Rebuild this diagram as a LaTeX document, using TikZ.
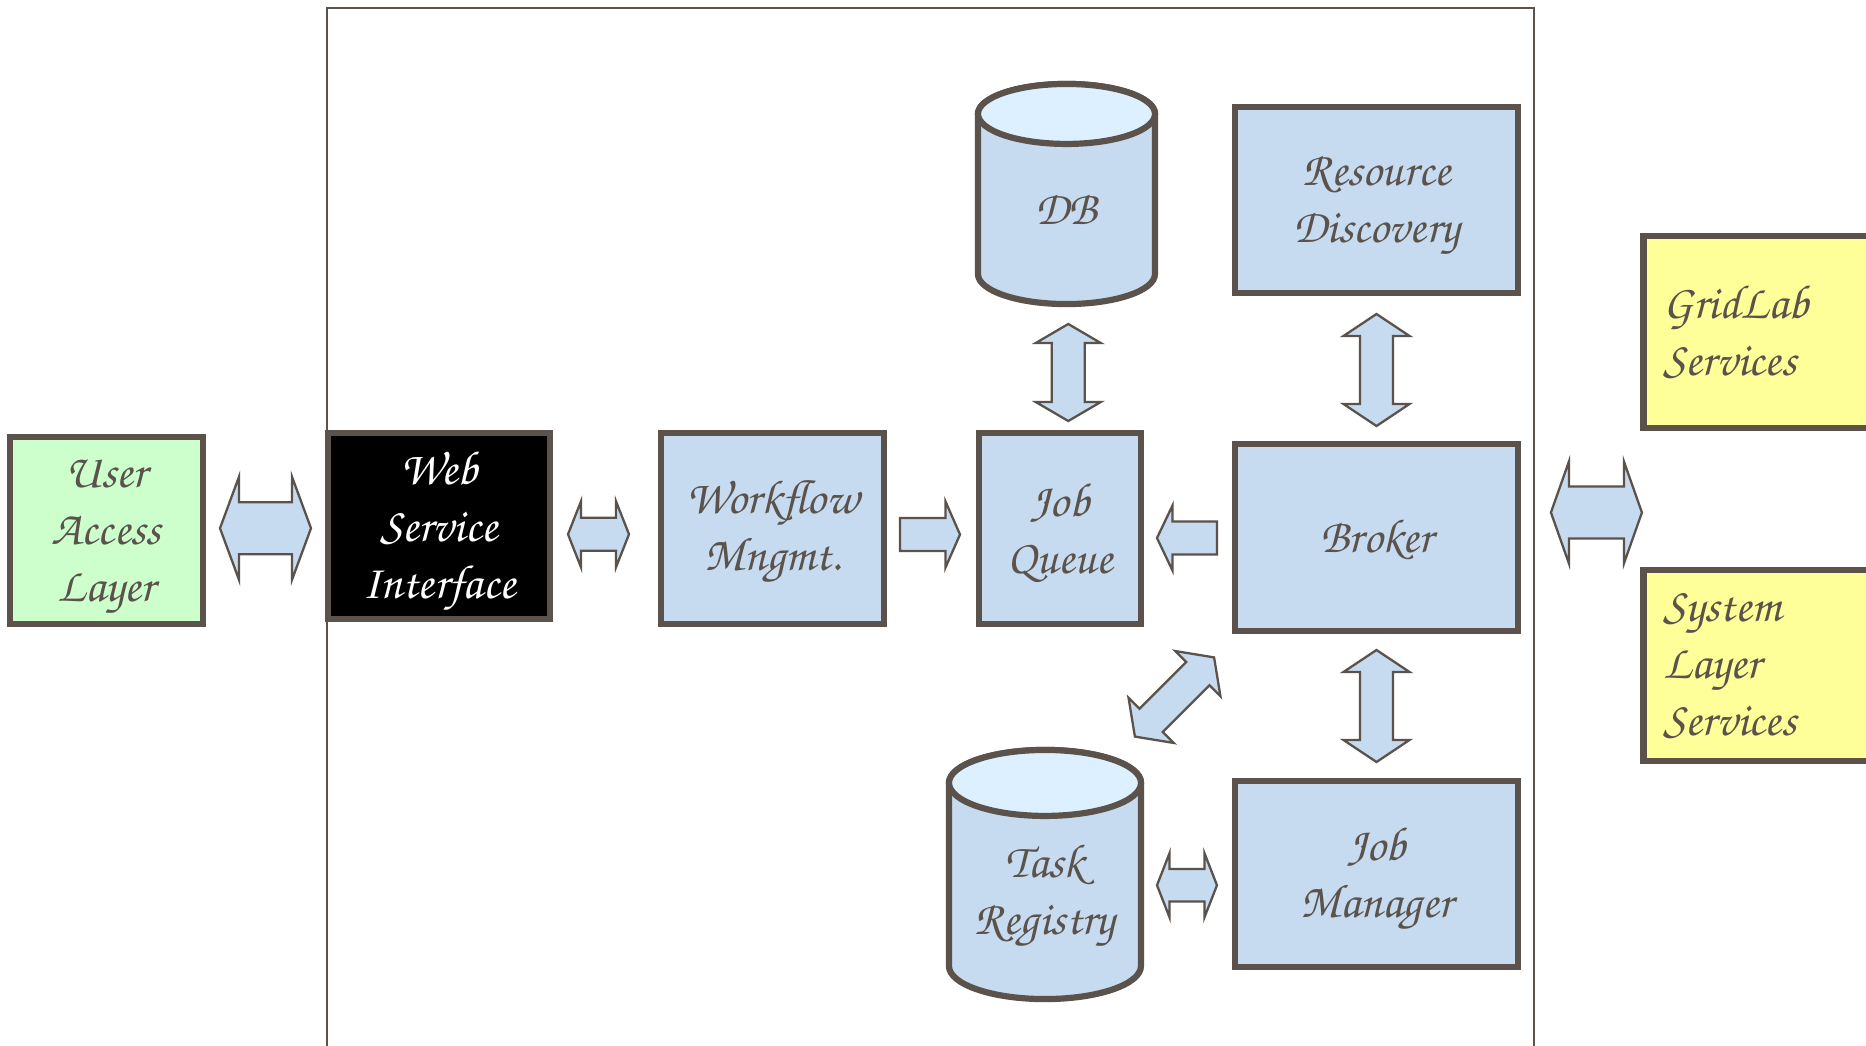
\documentclass[tikz,border=0pt]{standalone}
\usepackage[T1,TU]{fontenc}
\usetikzlibrary{calc}

\definecolor{ink}{RGB}{90,82,75}
\definecolor{boxblue}{RGB}{198,219,239}
\definecolor{captop}{RGB}{220,240,255}
\definecolor{boxgreen}{RGB}{204,255,204}
\definecolor{boxyellow}{RGB}{255,255,153}

% calligraphic face used for every label
\newcommand\handface{\fontencoding{T1}\fontfamily{pzc}\fontseries{mb}\fontshape{it}\fontsize{13.6}{16.2}\selectfont}
% invisible strut that lowers a centred label a little
\newcommand\topgap[1]{\rule{0pt}{#1}}

\tikzset{
  plainbox/.style={draw=ink, line width=0.062cm, outer sep=0pt,
    inner sep=0pt, text=ink, font=\handface},
  module/.style={plainbox, fill=boxblue, align=center},
  servicebox/.style={plainbox, fill=boxyellow, align=left, inner xsep=0.2cm},
  drumbody/.style={outer sep=0pt, inner sep=0pt},
  drumlabel/.style={text=ink, font=\handface, align=center},
  blockarrow/.style={draw=ink, line width=0.65pt, fill=boxblue, line join=miter},
  wall/.style={draw=ink, line width=0.02cm, outer sep=0pt}
}

% double-headed block arrow: centre, angle, half length, shaft half width, head half width, head length
\newcommand\twoway[6]{%
  \begin{scope}[shift={#1},rotate=#2]
    \draw[blockarrow] (-#3,0) -- ({-#3+#6},#5) -- ({-#3+#6},#4) -- ({#3-#6},#4)
      -- ({#3-#6},#5) -- (#3,0) -- ({#3-#6},-#5) -- ({#3-#6},-#4)
      -- ({-#3+#6},-#4) -- ({-#3+#6},-#5) -- cycle;
  \end{scope}}
% single-headed block arrow, pointing along the given angle
\newcommand\oneway[6]{%
  \begin{scope}[shift={#1},rotate=#2]
    \draw[blockarrow] (-#3,#4) -- ({#3-#6},#4) -- ({#3-#6},#5) -- (#3,0)
      -- ({#3-#6},-#5) -- ({#3-#6},-#4) -- (-#3,-#4) -- cycle;
  \end{scope}}
% database drum drawn on a body node: node, x radius, y radius
\newcommand\drum[3]{%
  \draw[ink, line width=0.062cm, fill=boxblue]
    ($(#1.north west)+(0,#3)$) -- ($(#1.south west)+(0,-#3)$)
    arc[start angle=180, end angle=0, x radius=#2, y radius=#3]
    -- ($(#1.north east)+(0,#3)$)
    arc[start angle=0, end angle=-180, x radius=#2, y radius=#3] -- cycle;
  \draw[ink, line width=0.062cm, fill=captop]
    ($(#1.north)+(0,#3)$) ellipse[x radius=#2, y radius=#3];}

\begin{document}
\begin{tikzpicture}[x=0.01cm, y=-0.01cm]
\useasboundingbox (0,0) rectangle (1866,1045);
\fill[white] (0,0) rectangle (1866,1045);
\clip (0,0) rectangle (1866,1045);

% system boundary
\node[wall, minimum width=12.07cm, minimum height=11cm] (frame) at (930.5,558) {};

% outside the system
\node[module, fill=boxgreen, minimum width=1.93cm, minimum height=1.87cm] (ual) at (106.5,530.5) {\topgap{12.1pt}User\\Access\\Layer};
\node[servicebox, text width=2.19cm, minimum width=2.59cm, minimum height=1.92cm] (gl) at (1773,332) {GridLab\\Services};
\node[servicebox, text width=2.19cm, minimum width=2.59cm, minimum height=1.91cm] (sls) at (1773,665.5) {System\\Layer\\Services};

% components
\node[module, fill=black, text=white, minimum width=2.22cm, minimum height=1.86cm] (wsi) at (439,526) {\topgap{12.8pt}Web\\Service\\Interface};
\node[module, minimum width=2.23cm, minimum height=1.91cm] (wm) at (772.5,528.5) {\topgap{11.8pt}Workflow\\Mngmt.};
\node[module, minimum width=1.62cm, minimum height=1.91cm] (jq) at (1060,528.5) {\topgap{11.6pt}Job\\Queue};
\node[module, minimum width=2.83cm, minimum height=1.87cm] (broker) at (1376.5,537.5) {\topgap{11pt}Broker};
\node[module, minimum width=2.83cm, minimum height=1.86cm] (rd) at (1376.5,200) {\topgap{12.1pt}Resource\\Discovery};
\node[module, minimum width=2.83cm, minimum height=1.86cm] (jm) at (1376.5,874) {\topgap{12.5pt}Job\\Manager};

% storage drums
\node[drumbody, minimum width=1.77cm, minimum height=2.20cm] (db) at (1066.5,194) {};
\drum{db}{88.5}{30}
\node[drumlabel] (dblabel) at ($(db.center)+(0,15)$) {DB};
\node[drumbody, minimum width=1.92cm, minimum height=2.49cm] (tr) at (1045,874.5) {};
\drum{tr}{96}{33}
\node[drumlabel] (trlabel) at ($(tr.center)+(0,22)$) {Task\\Registry};

% block arrows
\twoway{($(ual.east)!0.5!(wsi.west)$)}{0}{45.5}{26}{51.5}{19}
\twoway{($(wsi.east)!0.5!(wm.west)+(-7,7)$)}{0}{30.5}{16.5}{33}{13}
\oneway{($(wm.east)!0.5!(jq.west)+(-1.5,6)$)}{0}{30}{16.5}{33}{14.5}
\oneway{($(broker.west)!0.5!(jq.east)+(-1,5)$)}{180}{30}{16.5}{32.5}{15.5}
\twoway{($(db.south)!0.5!(jq.north)+(5,4)$)}{90}{48.5}{16.5}{32.5}{19}
\twoway{($(rd.south)!0.5!(broker.north)+(0,1.5)$)}{90}{56}{16.5}{33}{22}
\twoway{($(broker.south)!0.5!(jm.north)$)}{90}{56}{16.5}{33}{22}
\twoway{($(tr.north east)!0.5!(broker.south west)+(-13.5,6.5)$)}{45}{56}{16.5}{32}{23}
\twoway{($(tr.east)!0.5!(jm.west)+(-1,11)$)}{0}{30}{16.3}{32}{12.5}
\twoway{($(gl.south west)!0.5!(sls.north west)+(-47,13.5)$)}{0}{45.5}{26}{51}{18}
\end{tikzpicture}
\end{document}
